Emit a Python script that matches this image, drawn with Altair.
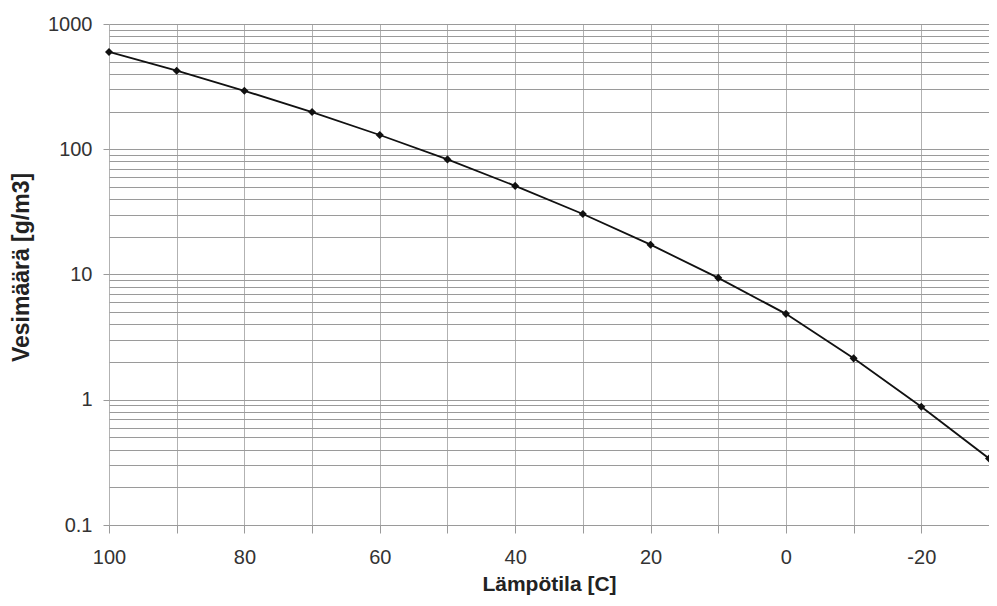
import altair as alt
import pandas as pd

# Temperature [C] and saturation water content [g/m3]
temps = [100, 90, 80, 70, 60, 50, 40, 30, 20, 10, 0, -10, -20, -30]
water = [598, 424, 293, 198, 130, 83, 51, 30.4, 17.3, 9.4, 4.85, 2.14, 0.88, 0.34]

# axis tick values
x_ticks = [100, 90, 80, 70, 60, 50, 40, 30, 20, 10, 0, -10, -20, -30]
y_ticks = [0.1, 0.2, 0.3, 0.4, 0.5, 0.6, 0.7, 0.8, 0.9,
           1, 2, 3, 4, 5, 6, 7, 8, 9,
           10, 20, 30, 40, 50, 60, 70, 80, 90,
           100, 200, 300, 400, 500, 600, 700, 800, 900, 1000]

df = pd.DataFrame({"temp": temps, "water": water})

FONT = "Liberation Sans"
decade_test = "abs(log(datum.value)/LN10 - round(log(datum.value)/LN10)) < 1e-6"

x_enc = alt.X(
    "temp:Q",
    scale=alt.Scale(domain=[-30, 100], reverse=True, nice=False, zero=False),
    axis=alt.Axis(
        values=x_ticks,
        labelExpr="datum.value % 20 == 0 ? ('' + datum.value) : ''",
        grid=True,
        gridColor="#b2b2b2",
        gridWidth=1,
        domain=False,
        ticks=True,
        tickSize=8,
        tickColor="#9a9a9a",
        labelPadding=14,
        labelFont=FONT,
        labelFontSize=20,
        labelColor="#333333",
        labelFlush=False,
        labelOverlap=False,
        title="Lämpötila [C]",
        titleFont=FONT,
        titleFontSize=21,
        titleFontWeight="bold",
        titleColor="#222222",
        titleX=440,
        titleY=65,
        titleAlign="center",
        titleBaseline="alphabetic",
    ),
)

y_enc = alt.Y(
    "water:Q",
    scale=alt.Scale(type="log", domain=[0.1, 1000], nice=False),
    axis=alt.Axis(
        values=y_ticks,
        format="~g",
        labelExpr=decade_test + " ? datum.label : ''",
        grid=True,
        gridColor="#9a9a9a",
        gridWidth=1,
        domain=False,
        ticks=True,
        tickSize=6,
        tickColor={"condition": {"test": decade_test, "value": "#9a9a9a"}, "value": "transparent"},
        labelPadding=11,
        labelFont=FONT,
        labelFontSize=20,
        labelColor="#333333",
        labelOverlap=False,
        labelFlush=False,
        title="Vesimäärä [g/m3]",
        titleFont=FONT,
        titleFontSize=23,
        titleFontWeight="bold",
        titleColor="#222222",
        titleAngle=270,
        titleX=-81,
        titleY=243,
        titleAlign="center",
        titleBaseline="alphabetic",
    ),
)

base = alt.Chart(df)
line = base.mark_line(color="#111111", strokeWidth=1.8).encode(x=x_enc, y=y_enc)
points = base.mark_point(shape="diamond", filled=True, size=65, color="#111111", opacity=1).encode(x=x_enc, y=y_enc)

chart = (
    alt.layer(line, points)
    .properties(
        width=880,
        height=501,
        autosize=alt.AutoSizeParams(type="none"),
        padding={"left": 101, "top": 16, "right": 0, "bottom": 73},
    )
    .configure_view(stroke=None)
    .configure(background="white")
)

chart.save("out.html", embed_options={"renderer": "svg", "actions": False})
